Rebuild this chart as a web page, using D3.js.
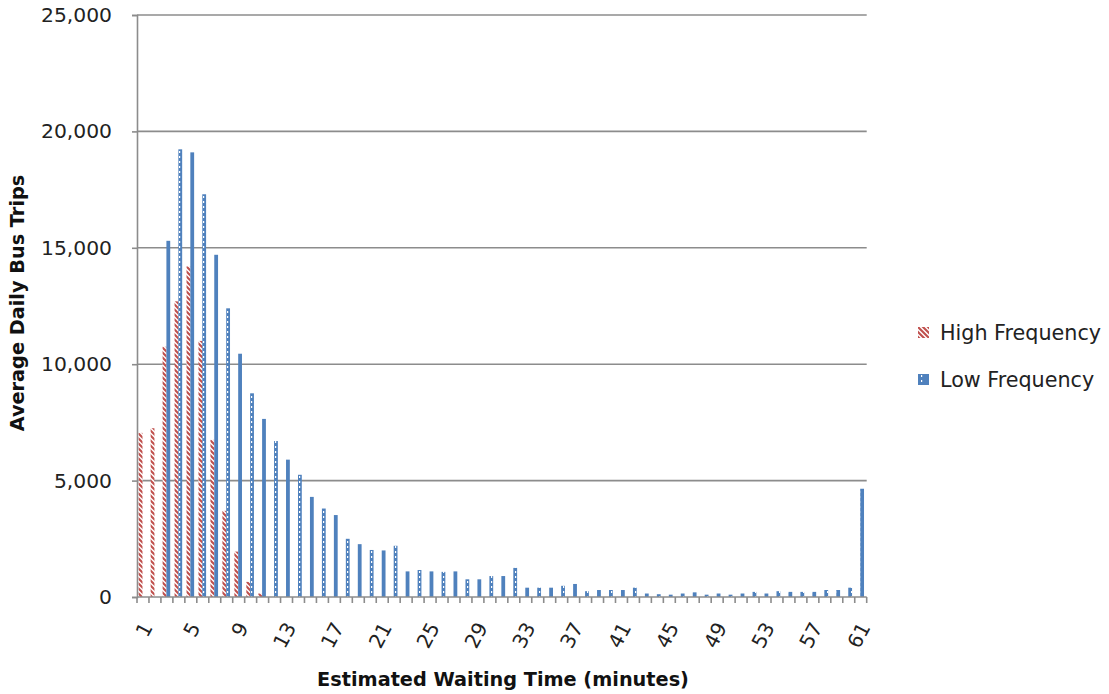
<!DOCTYPE html>
<html>
<head>
<meta charset="utf-8">
<script src="https://cdn.jsdelivr.net/npm/d3@7/dist/d3.min.js"></script>
<style>
  html, body { margin: 0; padding: 0; background: #fff; }
  svg { display: block; font-family: "DejaVu Sans", sans-serif; }
</style>
</head>
<body>
<svg id="chart" width="1109" height="694"></svg>
<script>
// ---- data ----
const categories = [1,2,3,4,5,6,7,8,9,10,11,12,13,14,15,16,17,18,19,20,
  21,22,23,24,25,26,27,28,29,30,31,32,33,34,35,36,37,38,39,40,
  41,42,43,44,45,46,47,48,49,50,51,52,53,54,55,56,57,58,59,60,61];
const highFrequency = [7050,7250,10750,12700,14200,11000,6750,3700,1950,650,
  150,0,0,0,0,0,0,0,0,0,
  0,0,0,0,0,0,0,0,0,0,
  0,0,0,0,0,0,0,0,0,0,
  0,0,0,0,0,0,0,0,0,0,
  0,0,0,0,0,0,0,0,0,0,0];
const lowFrequency = [0,0,15300,19230,19100,17300,14700,12400,10450,8750,
  7650,6700,5900,5250,4300,3800,3520,2500,2270,2020,
  2000,2200,1100,1160,1100,1080,1100,760,760,900,
  900,1250,400,400,400,480,560,250,300,300,
  300,400,150,120,100,150,200,100,150,100,
  150,220,150,250,220,220,220,300,300,400,4650];
const xTickLabels = [1,5,9,13,17,21,25,29,33,37,41,45,49,53,57,61];
const yTicks = [0,5000,10000,15000,20000,25000];
const seriesNames = ["High Frequency","Low Frequency"];

// ---- layout ----
const svg = d3.select("#chart");
const plotLeft = 137, plotRight = 866.7, plotTop = 15, plotBottom = 597;
const RED = "#c0504d", BLUE = "#4f81bd", GRID = "#8c8c8c";

const defs = svg.append("defs");
const pr = defs.append("pattern").attr("id","hatchRed")
  .attr("patternUnits","userSpaceOnUse").attr("width",5).attr("height",5);
pr.append("rect").attr("width",5).attr("height",5).attr("fill","#fff");
pr.append("path").attr("d","M-1,-1 L6,6 M-1,4 L1,6 M4,-1 L6,1")
  .attr("stroke",RED).attr("stroke-width",2.1);
const pb = defs.append("pattern").attr("id","dotBlue")
  .attr("patternUnits","userSpaceOnUse").attr("width",8).attr("height",5);
pb.append("rect").attr("width",8).attr("height",5).attr("fill",BLUE);
pb.append("rect").attr("x",3).attr("y",1).attr("width",1.2).attr("height",2).attr("fill","#fff");

const x = d3.scaleBand().domain(categories).range([plotLeft, plotRight]).padding(0);
const bw = x.bandwidth();
const sub = d3.scaleBand().domain(seriesNames).range([bw/2 - 4.3, bw/2 + 3.3]);
const y = d3.scaleLinear().domain([0,25000]).range([plotBottom, plotTop]);

// gridlines
svg.append("g").selectAll("line").data(yTicks.filter(d => d > 0)).join("line")
  .attr("x1", plotLeft).attr("x2", plotRight)
  .attr("y1", d => y(d)).attr("y2", d => y(d))
  .attr("stroke", GRID).attr("stroke-width", 1.6);

// y axis
const yAxis = svg.append("g").attr("transform", `translate(${plotLeft},0)`)
  .call(d3.axisLeft(y).tickValues(yTicks).tickSize(5).tickPadding(20)
    .tickFormat(d3.format(",")));
yAxis.select(".domain").attr("stroke", GRID).attr("stroke-width", 1.6);
yAxis.selectAll(".tick line").attr("stroke", GRID).attr("stroke-width", 1.6);
yAxis.selectAll("text").attr("font-family","DejaVu Sans").attr("font-size", 20.3)
  .attr("fill","#222");

// bars
const barData = [];
categories.forEach((c, i) => {
  barData.push({c, s: seriesNames[0], v: highFrequency[i]});
  barData.push({c, s: seriesNames[1], v: lowFrequency[i]});
});
svg.append("g").selectAll("rect").data(barData.filter(d => d.v > 0)).join("rect")
  .attr("x", d => x(d.c) + sub(d.s))
  .attr("width", sub.bandwidth())
  .attr("y", d => y(d.v))
  .attr("height", d => y(0) - y(d.v))
  .attr("fill", d => d.s === seriesNames[0] ? "url(#hatchRed)" : "url(#dotBlue)");

// x axis
const xAxisG = svg.append("g").attr("transform", `translate(0,${plotBottom})`);
xAxisG.append("line").attr("x1", plotLeft).attr("x2", plotRight).attr("stroke", GRID).attr("stroke-width", 1.6);
const boundaries = categories.map(c => x(c)).concat([x(categories[categories.length-1]) + bw]);
xAxisG.selectAll("line.tk").data(boundaries).join("line").attr("class","tk")
  .attr("x1", d => d).attr("x2", d => d).attr("y1", 0).attr("y2", 6)
  .attr("stroke", GRID).attr("stroke-width", 1.6);
xAxisG.selectAll("text").data(xTickLabels).join("text")
  .attr("transform", d => `translate(${x(d) + bw/2 + 4},${27}) rotate(-62)`)
  .attr("text-anchor","end").attr("dy","0.35em")
  .attr("font-size", 20).attr("fill","#222")
  .text(d => d);

// axis titles
svg.append("text").attr("x", 503).attr("y", 686).attr("text-anchor","middle")
  .attr("font-weight","bold").attr("font-size", 19.3).attr("fill","#111")
  .text("Estimated Waiting Time (minutes)");
svg.append("text").attr("transform","translate(24,303) rotate(-90)").attr("text-anchor","middle")
  .attr("font-weight","bold").attr("font-size", 19.3).attr("fill","#111")
  .text("Average Daily Bus Trips");

// legend
const lg = svg.append("g").selectAll("g").data(seriesNames).join("g")
  .attr("transform", (d,i) => `translate(918,${327 + i*47})`);
lg.append("rect").attr("width", 11).attr("height", 11)
  .attr("fill", (d,i) => i === 0 ? "url(#hatchRed)" : "url(#dotBlue)");
lg.append("text").attr("x", 22).attr("y", 6).attr("dy","0.35em")
  .attr("font-size", 20.7).attr("fill","#222").text(d => d);
</script>
</body>
</html>
